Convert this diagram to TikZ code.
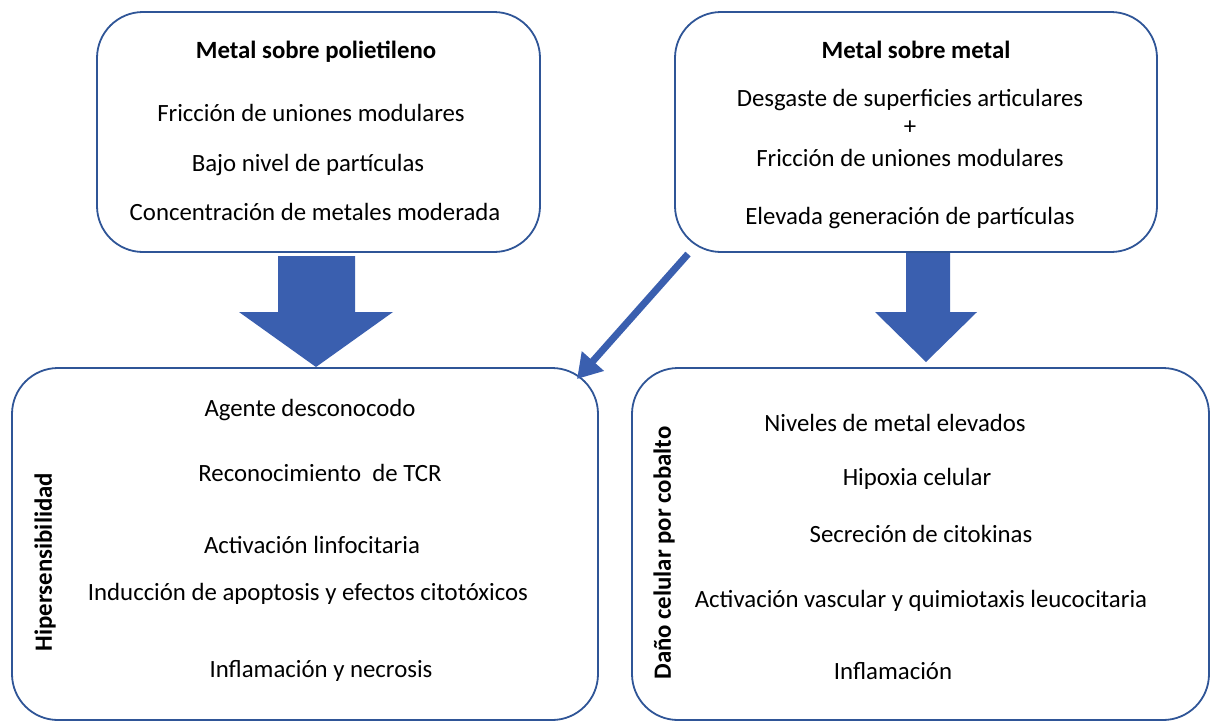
\documentclass[tikz,border=0pt]{standalone}
\usepackage{fontspec}
\setmainfont{Carlito}
\usetikzlibrary{arrows.meta}
\definecolor{boxblue}{HTML}{2F5597}
\definecolor{arrowblue}{HTML}{3A5FAF}
\tikzset{
  panel/.style={draw=boxblue, line width=1.8pt, rounded corners=46pt, fill=white, inner sep=0pt},
  txt/.style={font=\fontsize{24.8}{29}\selectfont, inner sep=0pt, anchor=center},
  ttl/.style={font=\fontsize{24.8}{29}\selectfont\bfseries, inner sep=0pt, anchor=center},
  blockarrow/.style={fill=arrowblue, draw=none},
  thinarrow/.style={draw=arrowblue, line width=7pt, -{Triangle[length=24pt,width=28pt]}}
}
\begin{document}
\begin{tikzpicture}[x=1pt,y=-1pt]
\useasboundingbox (0,0) rectangle (1212,724);
% panels
\node[panel, minimum width=443pt, minimum height=240pt] (mp) at (318.5,132) {};
\node[panel, minimum width=482pt, minimum height=240pt] (mm) at (916,132) {};
\node[panel, minimum width=586pt, minimum height=352pt] (hs) at (305,544) {};
\node[panel, minimum width=577pt, minimum height=352pt] (dc) at (920.5,544) {};
% texts box 1
\node[ttl] (t1) at (316,52) {Metal sobre polietileno};
\node[txt] (t1a) at (311,113) {Fricción de uniones modulares};
\node[txt] (t1b) at (308,165) {Bajo nivel de partículas};
\node[txt] (t1c) at (315,212) {Concentración de metales moderada};
% texts box 2
\node[ttl] (t2) at (916,50) {Metal sobre metal};
\node[txt] (t2a) at (910,100) {Desgaste de superficies articulares};
\node[txt] (t2b) at (910,128) {+};
\node[txt] (t2c) at (910,158) {Fricción de uniones modulares};
\node[txt] (t2d) at (910,218) {Elevada generación de partículas};
% texts box 3
\node[txt] (t3a) at (310,410) {Agente desconocodo};
\node[txt] (t3b) at (320,473) {Reconocimiento\ \ de TCR};
\node[txt] (t3c) at (312,545) {Activación linfocitaria};
\node[txt] (t3d) at (308,594) {Inducción de apoptosis y efectos citotóxicos};
\node[txt] (t3e) at (321,671) {Inflamación y necrosis};
\node[ttl, rotate=90] (t3v) at (45,562) {Hipersensibilidad};
% texts box 4
\node[txt] (t4a) at (895,423) {Niveles de metal elevados};
\node[txt] (t4b) at (917,479) {Hipoxia celular};
\node[txt] (t4c) at (921,534) {Secreción de citokinas};
\node[txt] (t4d) at (921,601) {Activación vascular y quimiotaxis leucocitaria};
\node[txt] (t4e) at (893,671) {Inflamación};
\node[ttl, rotate=90] (t4v) at (664,553) {Daño celular por cobalto};
% block arrows
\path[blockarrow] (278,256) -- (355,256) -- (355,312) -- (393,312) -- (316,367) -- (239,312) -- (278,312) -- cycle;
\path[blockarrow] (906,253) -- (950,253) -- (950,312) -- (977,312) -- (926,362) -- (875,312) -- (906,312) -- cycle;
% thin arrow
\coordinate (s) at (688,254);
\coordinate (e) at (577,379);
\draw[thinarrow] (s) -- (e);
\end{tikzpicture}
\end{document}
